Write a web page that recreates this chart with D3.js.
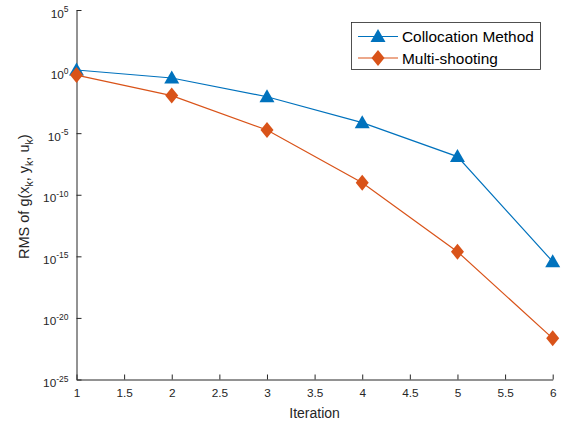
<!DOCTYPE html>
<html><head><meta charset="utf-8">
<script src="https://cdn.jsdelivr.net/npm/d3@7"></script>
<style>body{margin:0;background:#fff}svg{display:block;font-family:"Liberation Sans",Arial,Helvetica,sans-serif}</style>
</head><body><svg id="c" width="566" height="428"></svg>
<script>
const iterations = [1, 2, 3, 4, 5, 6];
const collocation = [1.35, 0.3, 9.1e-3, 7.1e-5, 1.26e-7, 3.7e-16];
const multishooting = [0.52, 1.12e-2, 1.8e-5, 9.5e-10, 2.4e-15, 2.2e-22];
const xTicks = [1, 1.5, 2, 2.5, 3, 3.5, 4, 4.5, 5, 5.5, 6];
const yTickExps = [5, 0, -5, -10, -15, -20, -25];
const seriesNames = ["Collocation Method", "Multi-shooting"];

const svg = d3.select("#c");
const L = 76.5, R = 552.7, T = 10, B = 379.5;
const x = d3.scaleLinear().domain([1, 6]).range([L, R]);
const y = d3.scaleLog().domain([1e-25, 1e5]).range([B, T]);
const axisColor = "#262626";
const FF = "Liberation Sans, Arial, sans-serif";

// x axis
const gx = svg.append("g").attr("transform", `translate(0,${B})`)
  .call(d3.axisBottom(x).tickValues(xTicks).tickSizeInner(-5).tickSizeOuter(0).tickPadding(9)
  .tickFormat(d3.format("")));
gx.select(".domain").attr("stroke", axisColor);
gx.selectAll(".tick line").attr("stroke", axisColor);
gx.selectAll(".tick text").attr("fill", axisColor).attr("font-size", 11.8).attr("font-family", FF);

// y axis
const gy = svg.append("g").attr("transform", `translate(${L},0)`)
  .call(d3.axisLeft(y).tickValues(yTickExps.map(e => Math.pow(10, e))).tickSizeInner(-5).tickSizeOuter(0)
  .tickFormat(() => ""));
gy.select(".domain").attr("stroke", axisColor);
gy.selectAll(".tick line").attr("stroke", axisColor);
gy.selectAll(".tick").each(function(d, i) {
  const t = d3.select(this).append("text").attr("fill", axisColor).attr("text-anchor", "end")
    .attr("font-family", FF);
  const e = yTickExps[i];
  const sup = (e < 0 ? "-" : "") + Math.abs(e);
  t.attr("x", -8).attr("y", 7);
  t.append("tspan").attr("font-size", 11.8).text("10");
  t.append("tspan").attr("font-size", 8.5).attr("dy", -5.5).text(sup);
});

// labels
svg.append("text").attr("x", (L + R) / 2).attr("y", 418).attr("text-anchor", "middle")
  .attr("font-size", 14).attr("font-family", FF).attr("fill", axisColor).text("Iteration");
const yl = svg.append("text").attr("transform", `translate(29,196.7) rotate(-90)`)
  .attr("text-anchor", "middle").attr("font-size", 14.5).attr("font-family", FF).attr("fill", axisColor);
yl.append("tspan").text("RMS of g(x");
yl.append("tspan").attr("font-size", 10.5).attr("dy", 4).text("k");
yl.append("tspan").attr("dy", -4).text(", y");
yl.append("tspan").attr("font-size", 10.5).attr("dy", 4).text("k");
yl.append("tspan").attr("dy", -4).text(", u");
yl.append("tspan").attr("font-size", 10.5).attr("dy", 4).text("k");
yl.append("tspan").attr("dy", -4).text(")");

const colors = ["#0072BD", "#D95319"];
const triPath = "M0,-7.5L7.5,5.5L-7.5,5.5Z";
const diaPath = "M0,-8L6.5,0L0,8L-6.5,0Z";
const paths = [triPath, diaPath];
const data = [collocation, multishooting];
const line = d3.line().x((d, i) => x(iterations[i])).y(d => y(d));

data.forEach((s, k) => {
  svg.append("path").attr("d", line(s)).attr("fill", "none").attr("stroke", colors[k]).attr("stroke-width", 1.2);
  svg.selectAll(null).data(s).enter().append("path")
    .attr("d", paths[k]).attr("fill", colors[k])
    .attr("transform", (d, i) => `translate(${x(iterations[i])},${y(d)})`);
});

// legend
const lg = svg.append("g");
lg.append("rect").attr("x", 351.5).attr("y", 22.5).attr("width", 189).attr("height", 47)
  .attr("fill", "#fff").attr("stroke", axisColor).attr("stroke-width", 0.8);
seriesNames.forEach((n, k) => {
  const yy = k === 0 ? 36.5 : 58;
  lg.append("line").attr("x1", 358).attr("x2", 398).attr("y1", yy).attr("y2", yy)
    .attr("stroke", colors[k]).attr("stroke-width", 1.2);
  lg.append("path").attr("d", paths[k]).attr("fill", colors[k]).attr("transform", `translate(378,${yy})`);
  lg.append("text").attr("x", 402).attr("y", yy + 5.5).attr("font-size", 15.4).attr("font-family", FF)
    .attr("fill", "#000").text(n);
});
</script></body></html>
